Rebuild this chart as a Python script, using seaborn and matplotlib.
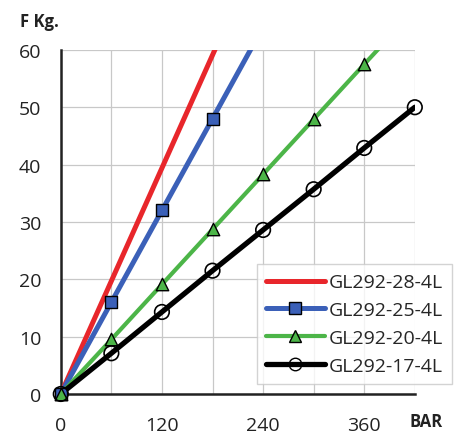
import pandas as pd
import seaborn as sns
import matplotlib.pyplot as plt
from matplotlib.lines import Line2D

# data
bar = [0, 60, 120, 180, 240, 300, 360, 420]
f_28 = [0, 19.7, 39.4, 59.1, 78.8]
f_25 = [0, 16.0, 32.0, 48.0, 64.0]
f_20 = [0, 9.5, 19.1, 28.7, 38.3, 47.9, 57.5, 67.0]
f_17 = [0, 7.1, 14.3, 21.5, 28.6, 35.7, 42.9, 50.0]
names = ["GL292-28-4L", "GL292-25-4L", "GL292-20-4L", "GL292-17-4L"]
x_labels = ["0", "120", "240", "360"]

sns.set_style("whitegrid")
plt.rcParams['font.family'] = ['Open Sans', 'DejaVu Sans']

colors = ["#e8262b", "#3b60b8", "#4cb548", "#000000"]
markers = [None, "s", "^", "o"]
widths = [3.6, 3.6, 3.0, 3.8]

fig = plt.figure(figsize=(4.64, 4.35), dpi=100)
ax = fig.add_axes([0.131, 0.092, 0.763, 0.791])

handles = []
for name, vals, c, m, lw in zip(names, [f_28, f_25, f_20, f_17], colors, markers, widths):
    df = pd.DataFrame({"bar": bar[:len(vals)], "f": vals})
    sns.lineplot(data=df, x="bar", y="f", color=c, lw=lw, ax=ax, zorder=3)
    if m is not None:
        pts = df[df["f"] <= 60]
        if m == "o":
            sns.scatterplot(data=pts, x="bar", y="f", marker="o", s=110, facecolor="none",
                            edgecolor="black", linewidth=1.2, ax=ax, zorder=4, clip_on=False)
        else:
            sns.scatterplot(data=pts, x="bar", y="f", marker=m, s=80, color=c,
                            edgecolor="black", linewidth=1.0, ax=ax, zorder=4, clip_on=False)
    handles.append(Line2D([], [], color=c, lw=lw, marker=m, markersize=9,
                          markerfacecolor=("none" if m == "o" else c),
                          markeredgecolor="black", markeredgewidth=1.0))

ax.set_xlim(0, 420)
ax.set_ylim(0, 60)
ax.set_xticks(range(0, 421, 60))
ax.set_xticklabels([x_labels[i // 2] if i % 2 == 0 and i // 2 < len(x_labels) else "" for i in range(8)])
ax.set_yticks(range(0, 61, 10))
ax.set_xlabel("")
ax.set_ylabel("")
ax.grid(True, color="#c8c8c8", lw=0.9)
for s in ["top", "right"]:
    ax.spines[s].set_visible(False)
for s in ["left", "bottom"]:
    ax.spines[s].set_color("#222222")
    ax.spines[s].set_linewidth(1.8)
ax.tick_params(axis="both", which="major", direction="out", length=6, width=1.5,
               color="#222222", labelsize=14, labelcolor="#222222", pad=8)
ax.tick_params(axis="x", pad=10)

leg = ax.legend(handles, names, loc="lower left", bbox_to_anchor=(0.553, 0.028),
                fontsize=14, handlelength=3.0, handletextpad=0.2, labelspacing=0.5,
                borderpad=0.5, borderaxespad=0, frameon=True, fancybox=False, numpoints=1)
leg.get_frame().set_edgecolor("#c8c8c8")
leg.get_frame().set_linewidth(1.0)
leg.set_zorder(5)

fig.text(0.085, 0.95, "F Kg.", fontsize=12, fontweight="bold", ha="center", va="center", color="#222222")
fig.text(0.918, 0.03, "BAR", fontsize=12, fontweight="bold", ha="center", va="center", color="#222222")

fig.savefig("out.png", dpi=100)
